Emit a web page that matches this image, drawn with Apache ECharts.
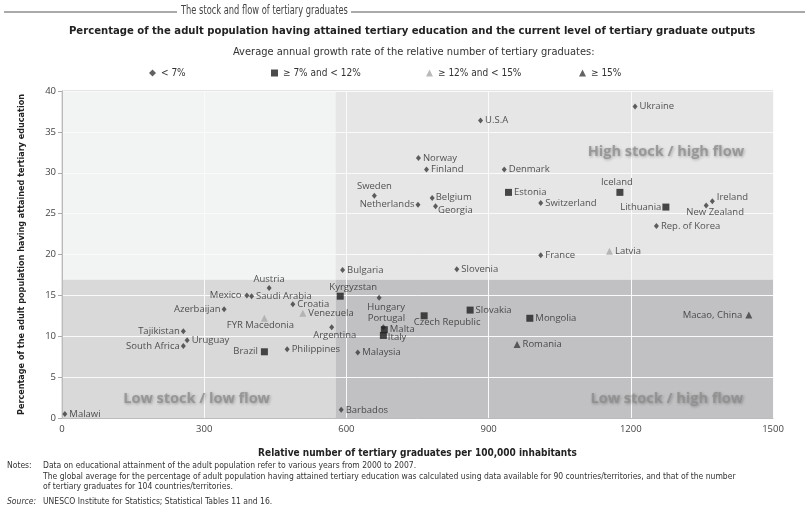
<!DOCTYPE html>
<html>
<head>
<meta charset="utf-8">
<script src="https://cdn.jsdelivr.net/npm/echarts@6/dist/echarts.min.js"></script>
<style>
  html, body { margin: 0; padding: 0; background: #fff; }
  #chart { width: 805px; height: 509px; }
</style>
</head>
<body>
<div id="chart"></div>
<script>
// countries and their values
const countries = ['Ukraine', 'U.S.A', 'Norway', 'Finland', 'Denmark', 'Sweden', 'Netherlands', 'Belgium',
  'Georgia', 'Estonia', 'Switzerland', 'Iceland', 'Lithuania', 'Ireland', 'New Zealand', 'Rep. of Korea',
  'Latvia', 'France', 'Slovenia', 'Bulgaria', 'Austria', 'Mexico', 'Saudi Arabia', 'Kyrgyzstan', 'Hungary',
  'Croatia', 'Venezuela', 'Azerbaijan', 'FYR Macedonia', 'Argentina', 'Portugal', 'Malta', 'Italy',
  'Czech Republic', 'Slovakia', 'Mongolia', 'Romania', 'Macao, China', 'Tajikistan', 'Uruguay',
  'South Africa', 'Brazil', 'Philippines', 'Malaysia', 'Barbados', 'Malawi']
// graduates per 100,000 inhabitants
const graduates = [1209, 883, 752, 769, 933, 659, 751, 781, 788, 942, 1010, 1177, 1274, 1372, 1359, 1254,
  1155, 1010, 833, 592, 437, 390, 400, 587, 669, 487, 508, 342, 427, 569, 678, 680, 678, 764, 861, 987,
  960, 1449, 256, 264, 256, 427, 475, 624, 589, 6]
// % adult population with tertiary education
const attained = [38.1, 36.4, 31.8, 30.4, 30.4, 27.2, 26.1, 26.9, 25.9, 27.6, 26.3, 27.6, 25.8, 26.5, 26.0,
  23.5, 20.4, 19.9, 18.2, 18.1, 15.9, 15.0, 14.9, 14.9, 14.7, 13.9, 12.8, 13.3, 12.2, 11.1, 11.1, 10.8,
  10.1, 12.5, 13.2, 12.2, 9.0, 12.6, 10.6, 9.5, 8.8, 8.1, 8.4, 8.0, 1.0, 0.5]
// growth rate class: 0 <7%, 1 7-12%, 2 12-15%, 3 >=15%
const growthClass = [0, 0, 0, 0, 0, 0, 0, 0, 0, 1, 0, 1, 1, 0, 0, 0, 2, 0, 0, 0, 0, 0, 0, 1, 0, 0, 2, 0, 2,
  0, 0, 1, 1, 1, 1, 1, 3, 3, 0, 0, 0, 1, 0, 0, 0, 0]
const growthNames = ['< 7%', '≥ 7% and < 12%', '≥ 12% and < 15%', '≥ 15%']
// global averages (quadrant split)
const avgGraduates = 577
const avgAttained = 16.9
const xTicks = [0, 300, 600, 900, 1200, 1500]
const yTicks = [0, 5, 10, 15, 20, 25, 30, 35, 40]

const FONT = '"Open Sans", sans-serif'
const NARROW = '"Liberation Sans Narrow", "DejaVu Sans Condensed", sans-serif'

// label placement
const labelPlace = {
  'Sweden': { position: 'top', distance: 1 },
  'Netherlands': { position: 'left', distance: 1 },
  'Belgium': { position: 'right', distance: 1, offset: [0, -1] },
  'Georgia': { position: 'right', distance: 0, offset: [0, 4] },
  'Iceland': { position: 'top', distance: 2, offset: [-3, 0] },
  'Lithuania': { position: 'left', distance: 1 },
  'Ireland': { position: 'right', distance: 2, offset: [0, -4] },
  'New Zealand': { position: 'bottom', distance: -1, offset: [9, 0] },
  'Austria': { position: 'top', distance: 1 },
  'Mexico': { position: 'left', distance: 3 },
  'Kyrgyzstan': { position: 'top', distance: 0, offset: [13, 0] },
  'Hungary': { position: 'bottom', distance: 1, offset: [7, 0] },
  'Azerbaijan': { position: 'left', distance: 1 },
  'FYR Macedonia': { position: 'bottom', distance: -1, offset: [-4, 0] },
  'Argentina': { position: 'bottom', distance: 0, offset: [3, 0] },
  'Portugal': { position: 'top', distance: 1, offset: [3, 0] },
  'Italy': { position: 'right', distance: 1, offset: [0, 2] },
  'Czech Republic': { position: 'bottom', distance: -2, offset: [23, 0] },
  'Macao, China': { position: 'left', distance: 3 },
  'Tajikistan': { position: 'left', distance: 1 },
  'South Africa': { position: 'left', distance: 1 },
  'Brazil': { position: 'left', distance: 3 }
}

const symbols = ['diamond', 'rect', 'triangle', 'triangle']
const symbolSizes = [[5, 6], 7, 7, 7]
const colors = ['#3a3a3a', '#1e1e1e', '#a9a9a9', '#3c3c3c']

const chart = echarts.init(document.getElementById('chart'))

const groupSeries = growthNames.map((gName, g) => {
  const data = []
  countries.forEach((c, i) => {
    if (growthClass[i] !== g) return
    const lp = labelPlace[c] || { position: 'right', distance: 2 }
    data.push({ name: c, value: [graduates[i], attained[i]], label: lp })
  })
  return {
    name: gName,
    type: 'scatter',
    z: 5,
    symbol: symbols[g],
    symbolSize: symbolSizes[g],
    itemStyle: { color: colors[g] },
    label: {
      show: true,
      formatter: '{b}',
      color: '#2a2a2a',
      fontSize: 9.5,
      fontFamily: FONT
    },
    data: data
  }
})

const quadLabel = {
  color: '#8d8d8d',
  fontSize: 14.5,
  fontWeight: 'bold',
  fontFamily: FONT,
  textShadowColor: 'rgba(0,0,0,0.35)',
  textShadowBlur: 3,
  textShadowOffsetX: 1,
  textShadowOffsetY: 1
}

const noteFont = '8.5px ' + NARROW

const option = {
  backgroundColor: '#fff',
  animation: false,
  textStyle: { fontFamily: FONT },
  title: [
    {
      text: 'Percentage of the adult population having attained tertiary education and the current level of tertiary graduate outputs',
      left: 64,
      top: 21,
      textStyle: { fontSize: 11.2, fontWeight: 'bold', color: '#222', fontFamily: NARROW }
    },
    {
      text: 'Average annual growth rate of the relative number of tertiary graduates:',
      left: 228,
      top: 42,
      textStyle: { fontSize: 11, fontWeight: 'normal', color: '#333', fontFamily: NARROW }
    }
  ],
  legend: growthNames.map((n, g) => ({
    data: [n],
    left: [144, 266, 421, 574][g],
    top: 63,
    itemWidth: 7,
    itemHeight: 7,
    itemGap: 4,
    selectedMode: false,
    textStyle: { fontSize: 10, color: '#333', fontFamily: NARROW }
  })),
  grid: { left: 62, right: 32, top: 91, bottom: 91, show: true, borderColor: '#c9c9c9', borderWidth: 1 },
  xAxis: {
    type: 'value',
    min: xTicks[0],
    max: xTicks[xTicks.length - 1],
    interval: 300,
    z: 3,
    name: 'Relative number of tertiary graduates per 100,000 inhabitants',
    nameLocation: 'middle',
    nameGap: 30,
    nameTextStyle: { fontSize: 10, fontWeight: 'bold', color: '#222', fontFamily: NARROW },
    axisLine: { show: true, lineStyle: { color: '#bbb' } },
    axisTick: { show: false },
    axisLabel: { fontSize: 9.5, color: '#444', margin: 6, formatter: v => String(v) },
    splitLine: { show: true, lineStyle: { color: '#fafafa', width: 1 } }
  },
  yAxis: {
    type: 'value',
    min: yTicks[0],
    max: yTicks[yTicks.length - 1],
    interval: 5,
    z: 3,
    name: 'Percentage of the adult population having attained tertiary education',
    nameLocation: 'middle',
    nameGap: 36,
    nameTextStyle: { fontSize: 9, fontWeight: 'bold', color: '#222', fontFamily: NARROW },
    axisLine: { show: true, lineStyle: { color: '#bbb' } },
    axisTick: { show: true, length: 4, lineStyle: { color: '#aaa' } },
    axisLabel: { fontSize: 9.5, color: '#444', margin: 6 },
    splitLine: { show: true, lineStyle: { color: '#fafafa', width: 1 } }
  },
  series: [
    {
      name: 'quadrants',
      type: 'scatter',
      z: 1,
      silent: true,
      data: [],
      markArea: {
        silent: true,
        z: 1,
        data: [
          [{ coord: [xTicks[0], avgAttained], itemStyle: { color: '#f2f3f3' } }, { coord: [avgGraduates, yTicks[yTicks.length - 1]] }],
          [{ coord: [avgGraduates, avgAttained], itemStyle: { color: '#e6e6e7' } }, { coord: [xTicks[xTicks.length - 1], yTicks[yTicks.length - 1]] }],
          [{ coord: [xTicks[0], yTicks[0]], itemStyle: { color: '#d9d9da' } }, { coord: [avgGraduates, avgAttained] }],
          [{ coord: [avgGraduates, yTicks[0]], itemStyle: { color: '#c1c1c3' } }, { coord: [xTicks[xTicks.length - 1], avgAttained] }]
        ]
      }
    },
    {
      name: 'quadrant labels',
      type: 'scatter',
      z: 4,
      silent: true,
      symbolSize: 0,
      label: Object.assign({ show: true, position: 'inside', formatter: '{b}' }, quadLabel),
      data: [
        { name: 'High stock / high flow', value: [1274, 32.6] },
        { name: 'Low stock / low flow', value: [284, 2.4] },
        { name: 'Low stock / high flow', value: [1276, 2.4] }
      ]
    }
  ].concat(groupSeries),
  graphic: [
    { type: 'line', shape: { x1: 4, y1: 12, x2: 177, y2: 12 }, style: { stroke: '#555', lineWidth: 1 } },
    { type: 'line', shape: { x1: 351, y1: 12, x2: 805, y2: 12 }, style: { stroke: '#555', lineWidth: 1 } },
    {
      type: 'text', x: 181, y: 4, scaleX: 0.71,
      style: { text: 'The stock and flow of tertiary graduates', font: '13px ' + NARROW, fill: '#444' }
    },
    { type: 'text', left: 7, top: 461, style: { text: 'Notes:', font: noteFont, fill: '#333' } },
    { type: 'text', left: 43, top: 461, style: { text: 'Data on educational attainment of the adult population refer to various years from 2000 to 2007.', font: noteFont, fill: '#333' } },
    { type: 'text', left: 43, top: 472, style: { text: 'The global average for the percentage of adult population having attained tertiary education was calculated using data available for 90 countries/territories, and that of the number', font: noteFont, fill: '#333' } },
    { type: 'text', left: 43, top: 482, style: { text: 'of tertiary graduates for 104 countries/territories.', font: noteFont, fill: '#333' } },
    { type: 'text', left: 7, top: 497, style: { text: 'Source:', font: 'italic ' + noteFont, fill: '#333' } },
    { type: 'text', left: 43, top: 497, style: { text: 'UNESCO Institute for Statistics; Statistical Tables 11 and 16.', font: noteFont, fill: '#333' } }
  ]
}

chart.setOption(option)
</script>
</body>
</html>
